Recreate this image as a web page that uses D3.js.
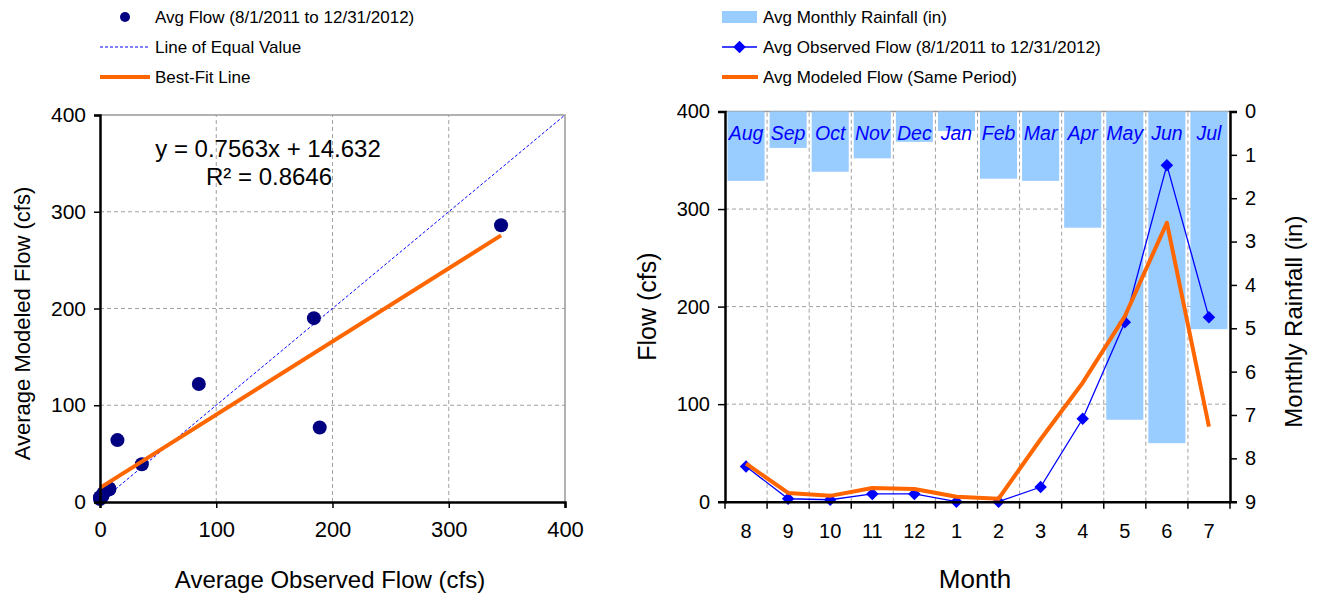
<!DOCTYPE html>
<html>
<head>
<meta charset="utf-8">
<script src="https://cdn.jsdelivr.net/npm/d3@7"></script>
<style>
  body { margin: 0; background: #fff; }
  svg { display: block; font-family: "Liberation Sans", Arial, sans-serif; }
</style>
</head>
<body>
<div id="chart"></div>
<script>
// monthly data, Aug 2011 .. Jul 2012
const months = ["8", "9", "10", "11", "12", "1", "2", "3", "4", "5", "6", "7"];
const monthNames = ["Aug", "Sep", "Oct", "Nov", "Dec", "Jan", "Feb", "Mar", "Apr", "May", "Jun", "Jul"];
const rainfall = [1.6, 0.84, 1.39, 1.08, 0.7, 0.45, 1.55, 1.6, 2.68, 7.11, 7.65, 5.02];
const observed = [36, 3, 2, 8, 8, 0, 0, 15, 85, 184, 345, 189];
const modeled = [39, 9, 6, 14, 13, 5, 3, 64, 122, 190, 286, 77];
const flowTicks = [0, 100, 200, 300, 400];
const rainTicks = [0, 1, 2, 3, 4, 5, 6, 7, 8, 9];
const fitSlope = 0.7563, fitIntercept = 14.632;

const W = 1321, H = 597;
const col = { navy: "#000080", blue: "#0000FF", orange: "#FF6600", bar: "#99CCFF", grid: "#a0a0a0" };

const svg = d3.select("#chart").append("svg")
    .attr("width", W).attr("height", H);

function styleAxis(a, size) {
    a.select(".domain").attr("stroke", "#000").attr("stroke-width", 2.5);
    a.selectAll(".tick line").attr("stroke", "#000").attr("stroke-width", 1.5);
    a.selectAll("text").style("font-size", size + "px")
        .style("font-family", "Liberation Sans, Arial").attr("fill", "#000");
}

// ---------- left: scatter ----------
const pts = observed.map((o, i) => ({ x: o, y: modeled[i] }));
const lx = d3.scaleLinear().domain([0, 400]).range([100, 565]);
const ly = d3.scaleLinear().domain([0, 400]).range([502, 115]);

const L = svg.append("g");

// grid
L.append("g").selectAll("line").data(flowTicks.slice(1, -1)).join("line")
    .attr("x1", d => lx(d)).attr("x2", d => lx(d)).attr("y1", ly(0)).attr("y2", ly(400))
    .attr("stroke", col.grid).attr("stroke-dasharray", "4,3");
L.append("g").selectAll("line").data(flowTicks.slice(1, -1)).join("line")
    .attr("y1", d => ly(d)).attr("y2", d => ly(d)).attr("x1", lx(0)).attr("x2", lx(400))
    .attr("stroke", col.grid).attr("stroke-dasharray", "4,3");
L.append("path")
    .attr("d", `M${lx(0)},${ly(400)}H${lx(400)}V${ly(0)}`)
    .attr("fill", "none").attr("stroke", "#999").attr("stroke-width", 1.5);

// line of equal value
L.append("line")
    .attr("x1", lx(0)).attr("y1", ly(0)).attr("x2", lx(400)).attr("y2", ly(400))
    .attr("stroke", col.blue).attr("stroke-width", 1).attr("stroke-dasharray", "3,2");

// points
L.append("g").selectAll("circle").data(pts).join("circle")
    .attr("cx", d => lx(d.x)).attr("cy", d => ly(d.y)).attr("r", 7)
    .attr("fill", col.navy);

// best fit
const xmax = d3.max(observed);
L.append("line")
    .attr("x1", lx(0)).attr("y1", ly(fitIntercept))
    .attr("x2", lx(xmax)).attr("y2", ly(fitSlope * xmax + fitIntercept))
    .attr("stroke", col.orange).attr("stroke-width", 4);

// axes
const lxAxis = L.append("g").attr("transform", `translate(0,${ly(0)})`)
    .call(d3.axisBottom(lx).tickValues(flowTicks).tickSize(6).tickPadding(13));
const lyAxis = L.append("g").attr("transform", `translate(${lx(0)},0)`)
    .call(d3.axisLeft(ly).tickValues(flowTicks).tickSize(6).tickPadding(8));
styleAxis(lxAxis, 22);
styleAxis(lyAxis, 21);

// equation
L.append("text").attr("x", 268).attr("y", 157).attr("text-anchor", "middle")
    .style("font-size", "24px").text("y = 0.7563x + 14.632");
L.append("text").attr("x", 269).attr("y", 185).attr("text-anchor", "middle")
    .style("font-size", "24px").text("R² = 0.8646");

// axis titles
L.append("text").attr("x", 330).attr("y", 588).attr("text-anchor", "middle")
    .style("font-size", "24px").text("Average Observed Flow (cfs)");
L.append("text").attr("transform", `translate(30,${(115 + 502) / 2 + 15}) rotate(-90)`)
    .attr("text-anchor", "middle").style("font-size", "22px").text("Average Modeled Flow (cfs)");

// legend
const LL = L.append("g").style("font-size", "17px");
LL.append("circle").attr("cx", 125).attr("cy", 17).attr("r", 5).attr("fill", col.navy);
LL.append("line").attr("x1", 100).attr("x2", 150).attr("y1", 47).attr("y2", 47)
    .attr("stroke", col.blue).attr("stroke-dasharray", "3,2");
LL.append("line").attr("x1", 100).attr("x2", 150).attr("y1", 77).attr("y2", 77)
    .attr("stroke", col.orange).attr("stroke-width", 4);
LL.selectAll("text").data(["Avg Flow (8/1/2011 to 12/31/2012)", "Line of Equal Value", "Best-Fit Line"])
    .join("text").attr("x", 155).attr("y", (d, i) => 23 + i * 30).text(d => d);

// ---------- right: monthly ----------
const rx = d3.scaleBand().domain(months).range([725, 1230]);
const ry = d3.scaleLinear().domain([0, 400]).range([501.7, 111.5]);
const rr = d3.scaleLinear().domain([0, 9]).range([111.5, 501.7]);
const bw = rx.bandwidth();
const cx = m => rx(m) + bw / 2;

const R = svg.append("g");

// grid
R.append("g").selectAll("line").data(months.slice(1)).join("line")
    .attr("x1", d => rx(d)).attr("x2", d => rx(d)).attr("y1", ry(0)).attr("y2", ry(400))
    .attr("stroke", col.grid).attr("stroke-dasharray", "4,3");
R.append("g").selectAll("line").data(flowTicks.slice(1, -1)).join("line")
    .attr("y1", d => ry(d)).attr("y2", d => ry(d)).attr("x1", 725).attr("x2", 1230)
    .attr("stroke", col.grid).attr("stroke-dasharray", "4,3");
R.append("line").attr("x1", 725).attr("x2", 1230).attr("y1", ry(400)).attr("y2", ry(400))
    .attr("stroke", "#999").attr("stroke-width", 1.5);

// rainfall bars (hanging from top)
R.append("g").selectAll("rect").data(rainfall).join("rect")
    .attr("x", (d, i) => rx(months[i]) + 2.5).attr("width", bw - 5)
    .attr("y", rr(0)).attr("height", d => rr(d) - rr(0))
    .attr("fill", col.bar);

// month names
R.append("g").selectAll("text").data(monthNames).join("text")
    .attr("x", (d, i) => cx(months[i])).attr("y", 140).attr("text-anchor", "middle")
    .style("font-size", "19.5px").style("font-style", "italic").attr("fill", col.blue)
    .text(d => d);

// observed
R.append("path").datum(observed)
    .attr("d", d3.line().x((d, i) => cx(months[i])).y(d => ry(d)))
    .attr("fill", "none").attr("stroke", col.blue).attr("stroke-width", 1.3);
R.append("g").selectAll("path").data(observed).join("path")
    .attr("transform", (d, i) => `translate(${cx(months[i])},${ry(d)})`)
    .attr("d", d3.symbol(d3.symbolDiamond2, 100))
    .attr("fill", col.blue);

// modeled
R.append("path").datum(modeled)
    .attr("d", d3.line().x((d, i) => cx(months[i])).y(d => ry(d)))
    .attr("fill", "none").attr("stroke", col.orange).attr("stroke-width", 4)
    .attr("stroke-linejoin", "round");

// axes
const rxAxis = R.append("g").attr("transform", `translate(0,${ry(0)})`)
    .call(d3.axisBottom(rx).tickSize(0).tickPadding(22));
rxAxis.append("g").selectAll("line").data(d3.range(13)).join("line")
    .attr("x1", i => 725 + i * bw).attr("x2", i => 725 + i * bw).attr("y1", 0).attr("y2", 7);
const ryAxis = R.append("g").attr("transform", "translate(725,0)")
    .call(d3.axisLeft(ry).tickValues(flowTicks).tickSize(7).tickPadding(8));
const rrAxis = R.append("g").attr("transform", "translate(1230,0)")
    .call(d3.axisRight(rr).tickValues(rainTicks).tickSize(7).tickPadding(8));
[rxAxis, ryAxis, rrAxis].forEach(a => styleAxis(a, 20));
rxAxis.selectAll("g > line").attr("stroke", "#000").attr("stroke-width", 1.5);

// axis titles
R.append("text").attr("x", 975).attr("y", 588).attr("text-anchor", "middle")
    .style("font-size", "26px").text("Month");
R.append("text").attr("transform", `translate(656,${(111.5 + 501.7) / 2}) rotate(-90)`)
    .attr("text-anchor", "middle").style("font-size", "25px").text("Flow (cfs)");
R.append("text").attr("transform", `translate(1302,${(111.5 + 501.7) / 2 + 15}) rotate(-90)`)
    .attr("text-anchor", "middle").style("font-size", "24px").text("Monthly Rainfall (in)");

// legend
const RL = R.append("g").style("font-size", "17px");
RL.append("rect").attr("x", 722).attr("y", 11).attr("width", 35).attr("height", 12).attr("fill", col.bar);
RL.append("line").attr("x1", 722).attr("x2", 757).attr("y1", 47).attr("y2", 47)
    .attr("stroke", col.blue).attr("stroke-width", 1.3);
RL.append("path").attr("transform", "translate(739.5,47)")
    .attr("d", d3.symbol(d3.symbolDiamond2, 100)).attr("fill", col.blue);
RL.append("line").attr("x1", 722).attr("x2", 758).attr("y1", 77).attr("y2", 77)
    .attr("stroke", col.orange).attr("stroke-width", 4);
RL.selectAll("text").data(["Avg Monthly Rainfall (in)", "Avg Observed Flow (8/1/2011 to 12/31/2012)", "Avg Modeled Flow (Same Period)"])
    .join("text").attr("x", 763).attr("y", (d, i) => 23 + i * 30).text(d => d);
</script>
</body>
</html>
